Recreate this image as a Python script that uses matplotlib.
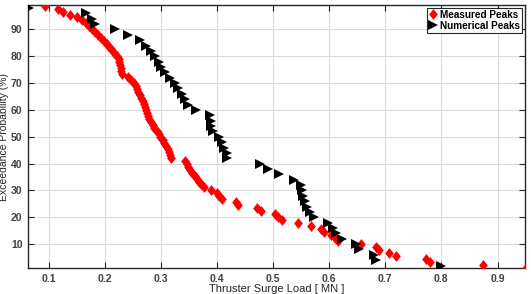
import numpy as np
import matplotlib as mpl
mpl.use("Agg")
import matplotlib.pyplot as plt

# peak loads, sorted ascending [MN]
measured_peaks = [
    0.093, 0.117, 0.125, 0.138, 0.150, 0.160, 0.167, 0.172, 0.177, 0.183,
    0.188, 0.193, 0.198, 0.204, 0.207, 0.212, 0.216, 0.222, 0.225, 0.226,
    0.227, 0.228, 0.229, 0.230, 0.241, 0.246, 0.252, 0.255, 0.257, 0.260,
    0.262, 0.265, 0.268, 0.270, 0.272, 0.274, 0.275, 0.277, 0.279, 0.282,
    0.286, 0.288, 0.293, 0.297, 0.299, 0.303, 0.306, 0.309, 0.312, 0.314,
    0.316, 0.318, 0.343, 0.346, 0.349, 0.352, 0.356, 0.360, 0.364, 0.367,
    0.371, 0.376, 0.390, 0.400, 0.404, 0.408, 0.434, 0.438, 0.472, 0.478,
    0.503, 0.509, 0.515, 0.545, 0.567, 0.586, 0.591, 0.603, 0.610, 0.615,
    0.656, 0.684, 0.688, 0.706, 0.719, 0.772, 0.780, 0.874, 0.950,
]
numerical_peaks = [
    0.065, 0.167, 0.178, 0.183, 0.219, 0.242, 0.262, 0.273, 0.283, 0.290,
    0.296, 0.300, 0.307, 0.317, 0.325, 0.331, 0.337, 0.343, 0.349, 0.362,
    0.388, 0.389, 0.390, 0.393, 0.403, 0.409, 0.413, 0.417, 0.418, 0.476,
    0.490, 0.510, 0.537, 0.549, 0.551, 0.553, 0.556, 0.561, 0.566, 0.572,
    0.598, 0.606, 0.612, 0.622, 0.647, 0.653, 0.679, 0.683, 0.800,
]
x_ticks = [0.1, 0.2, 0.3, 0.4, 0.5, 0.6, 0.7, 0.8, 0.9]
y_ticks = [10, 20, 30, 40, 50, 60, 70, 80, 90]


def exceedance(peaks):
    # rank based exceedance probability (%) for ascending sorted peaks
    n = len(peaks)
    return [(n - j) / (n + 1) * 100 for j in range(n)]


plt.rcParams['font.family'] = ['Liberation Sans', 'DejaVu Sans']
plt.rcParams['font.weight'] = 'bold'

# matlab style diamond, a bit taller than wide
diamond = [(0, 1), (0.8, 0), (0, -1), (-0.8, 0), (0, 1)]

fig = plt.figure(figsize=(5.31, 2.94), dpi=100)
ax = fig.add_axes([0.0527, 0.0884, 0.936, 0.8946])

ax.plot(measured_peaks, exceedance(measured_peaks), linestyle='none',
        marker=diamond, markersize=7.8, color='#ff0000', markeredgewidth=0,
        label='Measured Peaks', zorder=3)
ax.plot(numerical_peaks, exceedance(numerical_peaks), linestyle='none',
        marker='>', markersize=7.3, color='black', markeredgewidth=0,
        label='Numerical Peaks', zorder=3)

ax.set_xlim(0.063, 0.949)
ax.set_ylim(1.1, 99.1)
ax.set_xticks(x_ticks)
ax.set_xticklabels(['%g' % t for t in x_ticks])
ax.set_yticks(y_ticks)

ax.grid(color='#dcdcdc', linestyle='-', linewidth=0.8)
ax.set_axisbelow(True)
ax.tick_params(direction='in', top=True, right=True, length=4, width=0.8,
               colors='#262626', labelcolor='#404040', labelsize=7.5, pad=4)
for sp in ax.spines.values():
    sp.set_color('#262626')
    sp.set_linewidth(1.0)

ax.set_ylabel('Exceedance Probability (%)', fontsize=7.5, color='#262626', labelpad=1)
# pulled up a little so the whole label stays inside the picture
ax.set_xlabel('Thruster Surge Load [ MN ]', fontsize=8, color='#262626', labelpad=0.5)

leg = ax.legend(loc='upper right', fontsize=7.2, frameon=True, fancybox=False,
                handlelength=0.8, handletextpad=0.3, borderpad=0.2,
                labelspacing=0.1, borderaxespad=0.3, markerscale=1.0)
leg.get_frame().set_edgecolor('#262626')
leg.get_frame().set_linewidth(0.8)
leg.get_frame().set_alpha(1.0)

fig.savefig('out.png', dpi=100)
